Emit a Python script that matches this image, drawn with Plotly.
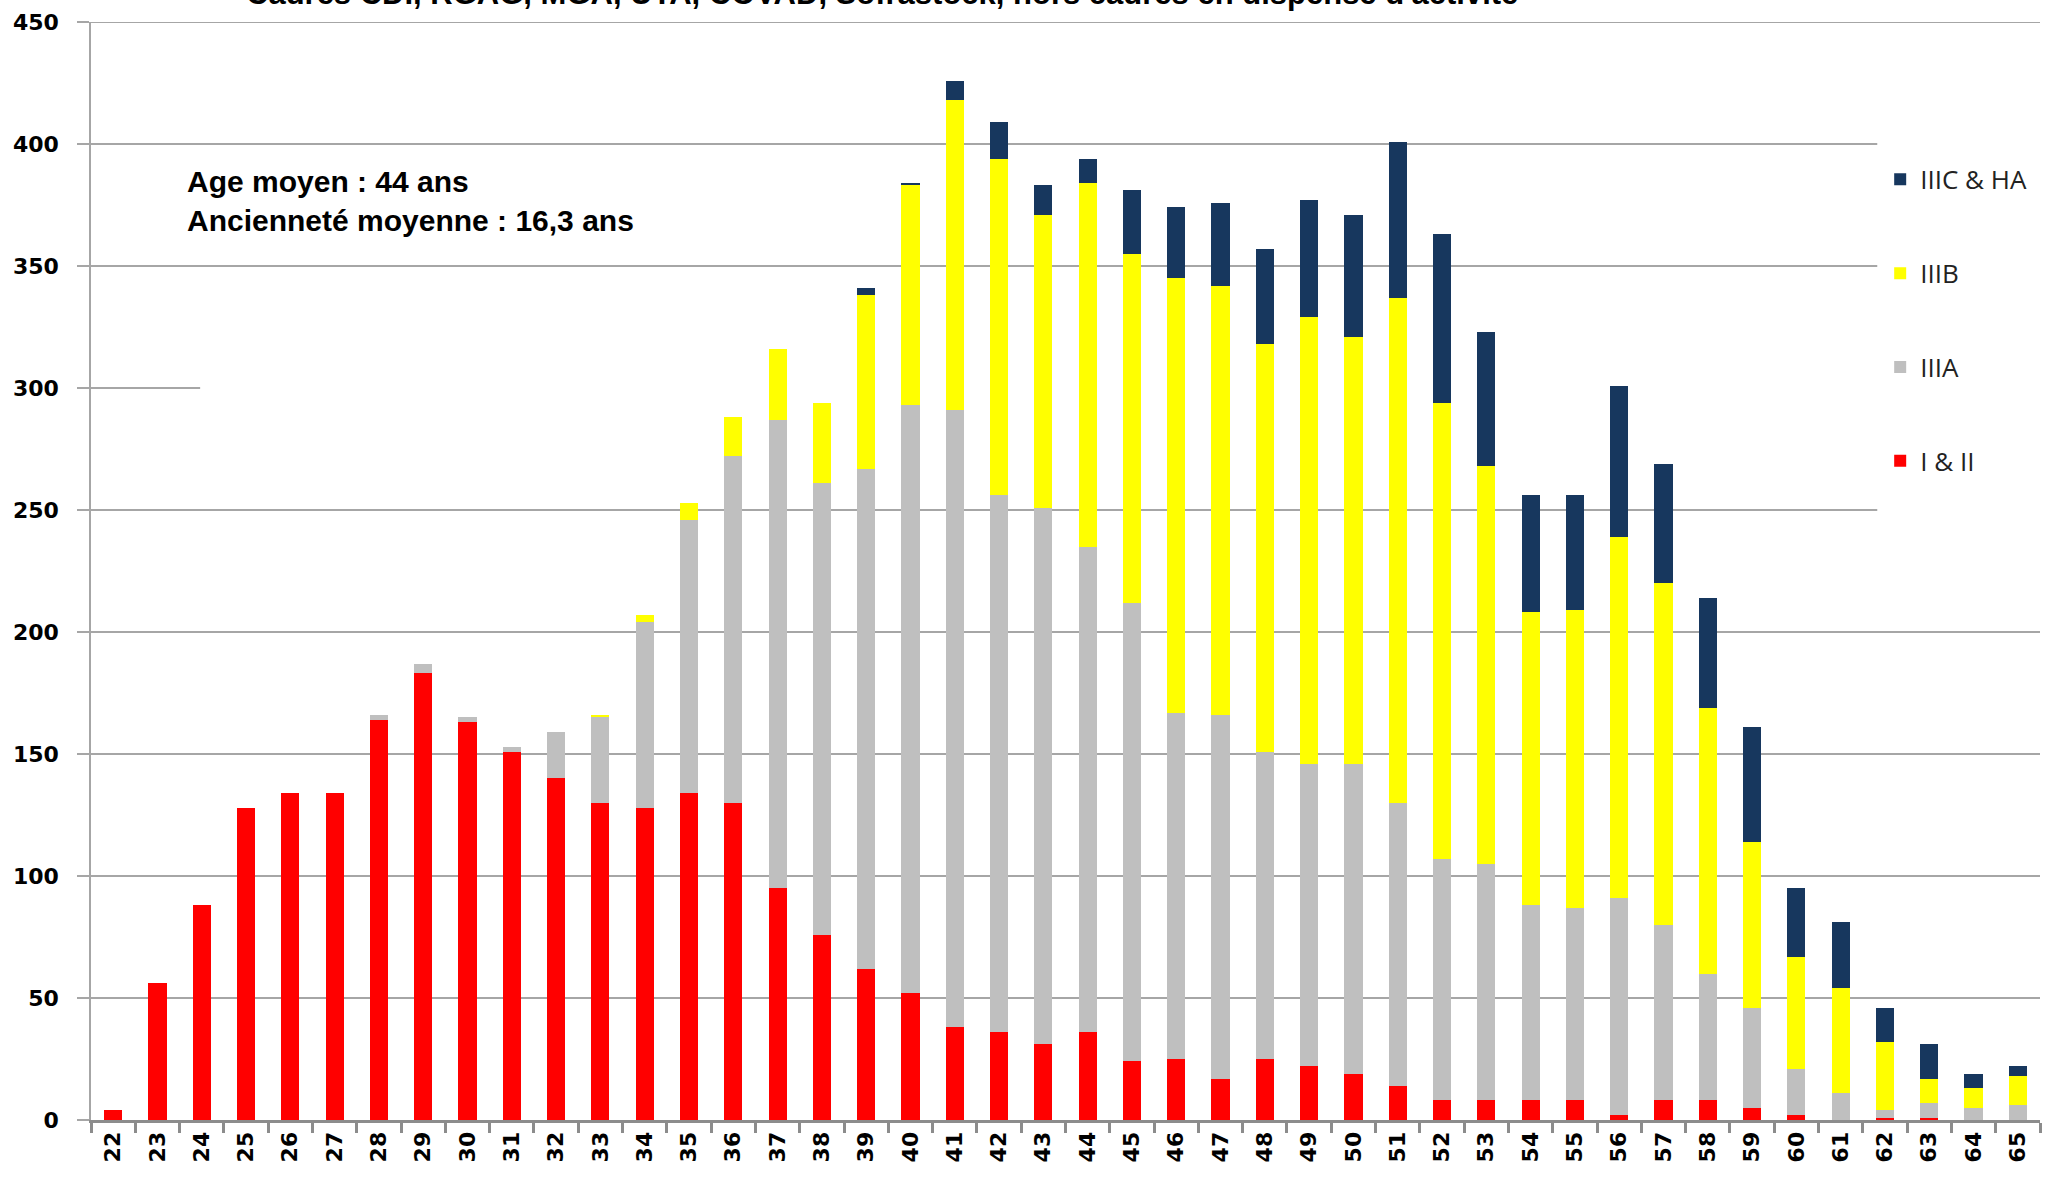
import plotly.graph_objects as go

ages = [str(a) for a in range(22, 66)]

# Segment values per age (22 .. 65)
i_ii = [4, 56, 88, 128, 134, 134, 164, 183, 163, 151, 140, 130, 128, 134, 130, 95, 76, 62,
        52, 38, 36, 31, 36, 24, 25, 17, 25, 22, 19, 14, 8, 8, 8, 8, 2, 8, 8, 5, 2, 0, 1, 1, 0, 0]
iiia = [0, 0, 0, 0, 0, 0, 2, 4, 2, 2, 19, 35, 76, 112, 142, 192, 185, 205,
        241, 253, 220, 220, 199, 188, 142, 149, 126, 124, 127, 116, 99, 97, 80, 79, 89, 72, 52, 41, 19, 11, 3, 6, 5, 6]
iiib = [0, 0, 0, 0, 0, 0, 0, 0, 0, 0, 0, 1, 3, 7, 16, 29, 33, 71,
        90, 127, 138, 120, 149, 143, 178, 176, 167, 183, 175, 207, 187, 163, 120, 122, 148, 140, 109, 68, 46, 43, 28, 10, 8, 12]
iiic_ha = [0, 0, 0, 0, 0, 0, 0, 0, 0, 0, 0, 0, 0, 0, 0, 0, 0, 3,
           1, 8, 15, 12, 10, 26, 29, 34, 39, 48, 50, 64, 69, 55, 48, 47, 62, 49, 45, 47, 28, 27, 14, 14, 6, 4]

series_names = ["I & II", "IIIA", "IIIB", "IIIC & HA"]
series_vals = [i_ii, iiia, iiib, iiic_ha]
series_colors = ["#FF0000", "#BFBFBF", "#FFFF00", "#17375E"]
legend_ranks = [4, 3, 2, 1]

y_ticks = [0, 50, 100, 150, 200, 250, 300, 350, 400, 450]

title_text = "Cadres CDI, RGAG, MGA, UTA, COVAD, Sofrastock, hors cadres en dispense d'activité"
note_text = "Age moyen : 44 ans<br>Ancienneté moyenne : 16,3 ans"

fig = go.Figure()
for name, vals, col, rk in zip(series_names, series_vals, series_colors, legend_ranks):
    fig.add_trace(go.Bar(
        x=ages, y=vals, name=name, legendgroup=name, legendrank=rk,
        marker=dict(color=col, line=dict(width=0)),
    ))

grid_color = "#A6A6A6"
# gridlines (some are hidden behind the legend area / missing in the original)
grid_spans = {50: 1.0, 100: 1.0, 150: 1.0, 200: 1.0, 250: 0.9165, 300: 0.056,
              350: 0.9165, 400: 0.9165, 450: 1.0}
shapes = []
for v, xe in grid_spans.items():
    shapes.append(dict(type="line", xref="paper", yref="y", x0=0, x1=xe, y0=v, y1=v,
                       line=dict(color=grid_color, width=2), layer="below"))

fig.update_layout(
    width=2045, height=1181,
    margin=dict(l=91, r=5, t=22, b=61),
    paper_bgcolor="white", plot_bgcolor="white",
    barmode="stack", bargap=0.59,
    shapes=shapes,
    showlegend=True,
    legend=dict(
        x=0.918, xanchor="left", y=0.878, yanchor="top",
        traceorder="grouped", tracegroupgap=57,
        font=dict(family="Open Sans", size=26, color="#222222"),
        bgcolor="rgba(255,255,255,0)", itemwidth=30,
    ),
    xaxis=dict(
        type="category", tickangle=-90,
        showline=True, linecolor="#8C8C8C", linewidth=3,
        ticks="outside", tickson="boundaries", ticklen=10, tickwidth=3, tickcolor="#8C8C8C",
        tickfont=dict(family="DejaVu Sans", size=22, color="black", weight="bold"),
        showgrid=False, zeroline=False,
    ),
    yaxis=dict(
        range=[0, 450], tickvals=y_ticks,
        showline=True, linecolor="#A6A6A6", linewidth=1.5,
        ticks="outside", ticklen=12, tickwidth=2, tickcolor="#A6A6A6",
        ticklabelstandoff=14,
        tickfont=dict(family="DejaVu Sans", size=22, color="black", weight="bold"),
        showgrid=False, zeroline=False,
    ),
    annotations=[
        dict(text=note_text, xref="paper", yref="paper", x=0.048, y=0.872,
             xanchor="left", yanchor="top", align="left", showarrow=False,
             font=dict(family="Liberation Sans", size=30, color="black", weight="bold")),
        dict(text=title_text, xref="paper", yref="paper", x=0.406, y=1.008,
             xanchor="center", yanchor="bottom", showarrow=False,
             font=dict(family="Liberation Sans Narrow, Liberation Sans", size=31, color="black", weight="bold")),
    ],
)

fig.write_html("out.html", config={"displayModeBar": False},
               post_script="document.body.style.margin='0';document.body.style.overflow='hidden';")
